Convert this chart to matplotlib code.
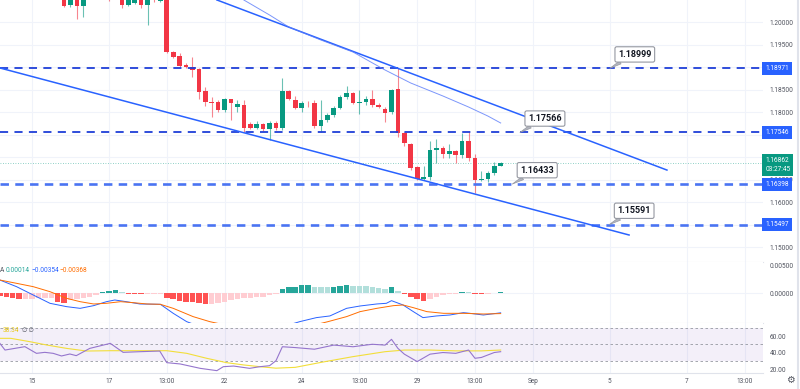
import numpy as np
import matplotlib
matplotlib.use('Agg')
import matplotlib.pyplot as plt
from matplotlib.lines import Line2D
from matplotlib.transforms import blended_transform_factory

plt.rcParams['font.family'] = ['Roboto', 'DejaVu Sans']

# 4h candles, x = bar index counted from Mon 15 00:00 (weekends skipped)
candle_idx = list(range(5, 74))
opens = [1.2075, 1.2038, 1.2070, 1.2036, 1.2070, 1.2085, 1.2090, 1.2080, 1.2060, 1.2075,
         1.2038, 1.2043, 1.2068, 1.2038, 1.2062, 1.2047, 1.2055, 1.1934, 1.1924, 1.1904,
         1.1901, 1.1895, 1.1847, 1.1823, 1.1823, 1.1804, 1.1828, 1.1812, 1.1816, 1.1773,
         1.1765, 1.1773, 1.1762, 1.1775, 1.1764, 1.1847, 1.1827, 1.1810, 1.1821, 1.1821,
         1.1769, 1.1782, 1.1793, 1.1810, 1.1833, 1.1842, 1.1820, 1.1822, 1.1829, 1.1816,
         1.1807, 1.1799, 1.1851, 1.1753, 1.1729, 1.1677, 1.1651, 1.1655, 1.1716, 1.1721,
         1.1706, 1.1713, 1.1704, 1.1736, 1.1697, 1.1649, 1.1651, 1.1664, 1.1681]
highs = [1.2085, 1.2070, 1.2078, 1.2074, 1.2092, 1.2098, 1.2095, 1.2085, 1.2078, 1.2082,
         1.2065, 1.2075, 1.2072, 1.2066, 1.2068, 1.2060, 1.2065, 1.1936, 1.1932, 1.1910,
         1.1923, 1.1897, 1.1856, 1.1834, 1.1826, 1.1832, 1.1830, 1.1826, 1.1827, 1.1777,
         1.1781, 1.1776, 1.1781, 1.1781, 1.1875, 1.1850, 1.1835, 1.1824, 1.1825, 1.1827,
         1.1826, 1.1797, 1.1813, 1.1838, 1.1857, 1.1845, 1.1848, 1.1835, 1.1850, 1.1820,
         1.1812, 1.1852, 1.1897, 1.1755, 1.1732, 1.1681, 1.1680, 1.1736, 1.1741, 1.1725,
         1.1728, 1.1716, 1.1753, 1.1758, 1.1706, 1.1670, 1.1670, 1.1690, 1.1690]
lows = [1.2033, 1.2034, 1.2007, 1.2012, 1.2060, 1.2070, 1.2065, 1.2047, 1.2052, 1.2031,
        1.2035, 1.2040, 1.2031, 1.1993, 1.2044, 1.2044, 1.1932, 1.1921, 1.1900, 1.1898,
        1.1878, 1.1830, 1.1813, 1.1790, 1.1800, 1.1800, 1.1782, 1.1800, 1.1756, 1.1762,
        1.1762, 1.1758, 1.1738, 1.1760, 1.1760, 1.1826, 1.1806, 1.1800, 1.1812, 1.1764,
        1.1756, 1.1778, 1.1789, 1.1806, 1.1829, 1.1817, 1.1795, 1.1815, 1.1812, 1.1808,
        1.1777, 1.1795, 1.1745, 1.1725, 1.1672, 1.1648, 1.1648, 1.1650, 1.1686, 1.1697,
        1.1697, 1.1686, 1.1698, 1.1692, 1.1619, 1.1646, 1.1645, 1.1660, 1.1680]
closes = [1.2036, 1.2065, 1.2036, 1.2070, 1.2085, 1.2090, 1.2080, 1.2060, 1.2070, 1.2038,
          1.2060, 1.2070, 1.2038, 1.2062, 1.2055, 1.2055, 1.1934, 1.1923, 1.1903, 1.1901,
          1.1893, 1.1845, 1.1823, 1.1821, 1.1804, 1.1829, 1.1821, 1.1817, 1.1764, 1.1765,
          1.1773, 1.1762, 1.1775, 1.1764, 1.1847, 1.1828, 1.1810, 1.1820, 1.1819, 1.1769,
          1.1782, 1.1793, 1.1810, 1.1833, 1.1842, 1.1820, 1.1822, 1.1829, 1.1816, 1.1811,
          1.1798, 1.1850, 1.1753, 1.1732, 1.1676, 1.1651, 1.1656, 1.1716, 1.1721, 1.1706,
          1.1713, 1.1704, 1.1736, 1.1697, 1.1649, 1.1652, 1.1664, 1.1681, 1.16862]

last_price = 1.16862
countdown = '03:27:45'

# drawn levels and trendlines
levels = [1.18971, 1.17546, 1.16398, 1.15497]
upper_x = [28.8, 98.9]
upper_y = [1.2049, 1.1671]
lower_x = [-4.98, 93.0]
lower_y = [1.18978, 1.15267]
ma_x = [33, 37, 40, 45, 50, 55, 59, 64, 68, 71, 73]
ma_y = [1.20489, 1.20156, 1.19889, 1.19600, 1.19333, 1.18933, 1.18644, 1.18356, 1.18111, 1.17911, 1.17756]

callout_text = ['1.18999', '1.17566', '1.16433', '1.15591']
callout_x = [90.0, 76.0, 74.8, 89.9]
callout_y = [1.18971, 1.17546, 1.16398, 1.15497]

# MACD pane
hist_idx = list(range(-5, 74))
hist = [-0.0006, -0.00065, -0.00083, -0.0011, -0.00105, -0.0010, -0.00095, -0.0009, -0.00085, -0.00155,
        -0.00175, -0.0012, -0.0011, -0.00095, -0.00065, -0.00036, 0.00012, 0.00036, 0.00048, 0.00018,
        -0.00012, -0.00018, -0.0002, -0.00015, -0.00012, -0.0001, -0.00083, -0.00113, -0.00143, -0.00155,
        -0.0016, -0.00184, -0.00196, -0.0019, -0.00184, -0.00155, -0.00125, -0.00107, -0.00095, -0.00083,
        -0.00077, -0.00065, -0.00036, -0.00018, 0.00071, 0.00101, 0.00113, 0.00143, 0.00145, 0.00101,
        0.00100, 0.00099, 0.00113, 0.00125, 0.00143, 0.00125, 0.00124, 0.00123, 0.00101, 0.00083,
        0.00071, 0.00101, 0.00036, -0.00012, -0.00065, -0.00113, -0.00137, -0.00107, -0.00065, -0.00036,
        -0.00024, -0.00018, 0.00024, 0.00018, -0.00018, -0.00024, -0.00018, -0.00006, 0.00014]
macd_x = [-5, -2.4, 0.2, 2.8, 5.4, 7.5, 9.6, 11.6, 12.9, 14.7, 16.8, 20, 22, 24.1, 28, 33, 38, 41.7,
          44.3, 46.4, 49, 51.1, 53.7, 55.2, 56, 57.8, 59.4, 60.9, 63, 65.1, 67.2, 68.2, 70.3, 73]
macd_y = [0.00232, 0.00113, -0.00036, -0.00184, -0.00244, -0.00274, -0.00226, -0.00155, -0.00125,
          -0.00155, -0.00196, -0.00202, -0.00363, -0.00512, -0.0068, -0.0072, -0.0064, -0.00512,
          -0.0044, -0.0041, -0.00274, -0.00232, -0.00196, -0.00184, -0.00137, -0.00214, -0.00333,
          -0.0044, -0.0041, -0.00393, -0.00351, -0.00363, -0.00393, -0.00354]
signal_x = [-5, -2.4, 0.2, 2.8, 5.4, 7.5, 9.6, 11.6, 13.8, 15.8, 17.9, 20, 22, 25.1, 27.7, 32, 38,
            43, 46.1, 49, 51.1, 53.7, 56.3, 57.8, 59.4, 61.5, 64.1, 67.2, 70.3, 73]
signal_y = [0.00232, 0.00173, 0.00113, 0.00024, -0.00095, -0.00155, -0.00196, -0.00184, -0.00155,
            -0.00173, -0.00196, -0.00202, -0.00274, -0.00422, -0.00512, -0.0062, -0.0066, -0.0060,
            -0.00512, -0.00422, -0.00333, -0.00274, -0.00226, -0.00214, -0.00262, -0.00333,
            -0.00363, -0.00363, -0.00375, -0.00368]
macd_legend = ['0.00014', '\u22120.00354', '\u22120.00368']

# RSI pane
rsi_x = [-5, -4.2, -1.1, 0.7, 2, 3.3, 4.6, 5.9, 6.9, 9, 12.2, 14.2, 16.8, 19.9, 21, 23.1, 26.2,
         28.8, 29.8, 31.4, 33.9, 35.5, 37, 38, 39, 41, 44, 47, 50, 53, 55, 56, 57, 58, 60, 62,
         64, 66, 68, 69, 70, 72, 73]
rsi_y = [51.1, 43, 47.1, 39, 40.2, 39, 35.8, 38.2, 36.2, 45, 51.1, 40.2, 41, 41.8, 27.7, 26.1, 20.8,
         18, 22.8, 23.6, 20.8, 22.8, 24, 30, 47, 46, 44, 49, 47, 50, 49, 56, 45, 38, 29, 38,
         40, 39, 43, 33, 34, 40, 41]
rsi_ma_x = [-5, -3.3, -0.3, 2.3, 5.4, 8.5, 12.2, 16.8, 21, 24.1, 27.2, 30.3, 33, 35.5, 38, 41,
            45, 50, 55, 58, 62, 66, 70, 73]
rsi_ma_y = [57.2, 57.2, 53.1, 49.1, 45, 41.8, 42.2, 42.2, 42.2, 39, 33, 27.7, 24.9, 22.8, 21, 22,
            28, 35, 41, 43, 43, 42, 42, 43]
rsi_legend = '38.34'

tick_pos = [0, 12, 21, 30, 42, 51, 60, 69, 78, 90, 102, 111]
tick_lab = ['15', '17', '13:00', '22', '24', '13:00', '29', '13:00', 'Sep', '5', '7', '13:00']

GREEN = '#089981'
RED = '#F23645'
BLUE = '#2962FF'
GRID = '#F0F3FA'
TXT = '#50535E'
FS = 4.7

W, H = 800, 389
fig = plt.figure(figsize=(8, 3.89), dpi=100)


def pane(top, bottom):
    a = fig.add_axes([0, 1 - bottom / H, 763 / W, (bottom - top) / H])
    a.set_xlim(-4.98, 113.86)
    for s in a.spines.values():
        s.set_visible(False)
    a.spines['bottom'].set_visible(True)
    a.spines['bottom'].set_color('#E0E3EB')
    a.yaxis.tick_right()
    a.tick_params(axis='y', length=0, pad=4.6, labelsize=FS, labelcolor=TXT)
    a.tick_params(axis='x', length=0)
    a.set_xticks(tick_pos)
    a.set_xticklabels([])
    for t in tick_pos:
        a.axvline(t, color=GRID, lw=0.8, zorder=0)
    return a


ax = pane(0, 262)
axm = pane(262, 323)
axr = pane(323, 373)

# ---- price pane ----
ax.set_ylim(1.14667, 1.20489)
price_ticks = np.arange(1.150, 1.2001, 0.005)
ax.set_yticks(price_ticks)
# labels sitting under a level box are hidden on the real chart
ax.set_yticklabels(['' if min(abs(p - l) for l in levels) < 0.0006 else '%.5f' % p for p in price_ticks])
for p in price_ticks:
    ax.axhline(p, color=GRID, lw=0.8, zorder=0)

for i, o, h, l, c in zip(candle_idx, opens, highs, lows, closes):
    col = GREEN if c >= o else RED
    ax.vlines(i, l, h, color=col, lw=0.8, alpha=0.6, zorder=2)
    body = max(abs(c - o), 0.00006)
    ax.bar(i, body, bottom=min(o, c), width=0.72, color=col, zorder=3)

ax.axhline(last_price, color=GREEN, lw=0.6, ls=(0, (1, 2)), alpha=0.6, zorder=1)

for k, lvl in enumerate(levels):
    if k < 2:
        ax.axhline(lvl, color='#1F3FD8', lw=1.3, ls=(0, (4.5, 3.5)), zorder=4)
    else:
        ax.axhline(lvl, color='#4A74F2', lw=1.9, ls=(0, (3.2, 2.4)), zorder=4)

ax.plot(upper_x, upper_y, color=BLUE, lw=1.1, zorder=5)
ax.plot(lower_x, lower_y, color=BLUE, lw=1.1, zorder=5)
ax.plot(ma_x, ma_y, color='#5B7CFA', lw=0.7, alpha=0.8, zorder=5)

for txt, cx, cy in zip(callout_text, callout_x, callout_y):
    ax.annotate(txt, xy=(cx, cy), xytext=(18, 10), textcoords='offset points',
                fontsize=6.5, fontweight='bold', color='#131722', ha='center', va='center',
                bbox=dict(boxstyle='round,pad=0.35,rounding_size=0.2', fc='white', ec='#9598A1', lw=0.8),
                arrowprops=dict(arrowstyle='wedge,tail_width=0.35', fc='#B2B5BE', ec='#9598A1', lw=0.5,
                                shrinkA=0, shrinkB=0),
                zorder=8)

tr = blended_transform_factory(ax.transAxes, ax.transData)
for lvl in levels:
    ax.text(1.003, lvl, '%.5f' % lvl, transform=tr, fontsize=FS, color='white', ha='left', va='center',
            bbox=dict(boxstyle='square,pad=0.45', fc=BLUE, ec='none'), zorder=10, clip_on=False)
ax.text(1.003, last_price - 0.0003, '%.5f\n%s' % (last_price, countdown), transform=tr, fontsize=FS,
        color='white', ha='left', va='center', linespacing=1.4,
        bbox=dict(boxstyle='square,pad=0.45', fc=GREEN, ec='none'), zorder=10, clip_on=False)

# ---- MACD pane ----
axm.set_ylim(-0.00536, 0.00554)
axm.set_yticks([0.0, 0.005])
axm.set_yticklabels(['0.00000', '0.00500'])
axm.axhline(0, color=GRID, lw=0.8, zorder=0)
prev = 0.0
for i, v in zip(hist_idx, hist):
    if v >= 0:
        col = '#26A69A' if v >= prev else '#B2DFDB'
    else:
        col = '#FF5252' if v < prev else '#FFCDD2'
    axm.bar(i, v, width=0.85, color=col, zorder=2)
    prev = v
axm.plot(macd_x, macd_y, color=BLUE, lw=0.7, zorder=3)
axm.plot(signal_x, signal_y, color='#FF6D00', lw=0.7, zorder=3)

ly = 1 - 271 / H
fig.text(0 / W, ly, 'A', fontsize=FS, color=TXT, va='center')
for txt, xp, col in zip(macd_legend, [6, 31, 59], ['#26A69A', BLUE, '#FF6D00']):
    fig.text(xp / W, ly, txt, fontsize=FS, color=col, va='center')

# ---- RSI pane ----
axr.set_ylim(15.15, 75.8)
axr.set_yticks([20, 40, 60])
axr.set_yticklabels(['20.00', '40.00', '60.00'])
axr.axhspan(30, 70, color='#7E57C2', alpha=0.09, lw=0, zorder=0)
for lvl in [70, 50, 30]:
    axr.axhline(lvl, color='#9598A1', lw=0.6, ls=(0, (3, 3)), zorder=1)
axr.plot(rsi_ma_x, rsi_ma_y, color='#F2DE3A', lw=0.8, zorder=3)
axr.plot(rsi_x, rsi_y, color='#9575CD', lw=0.8, zorder=4)
axr.set_xticklabels(tick_lab)
axr.tick_params(axis='x', labelsize=FS, labelcolor=TXT, pad=3.5)

fig.text(3 / W, 1 - 330 / H, rsi_legend, fontsize=FS, color='#E8C81A', va='center')
fig.text(22 / W, 1 - 330 / H, '\u2205\u2009\u2205', fontsize=4.3, color=TXT, va='center')

fig.text(790 / W, 1 - 380 / H, '\u2699', fontsize=7, color=TXT, ha='center', va='center')
fig.add_artist(Line2D([797.5 / W, 797.5 / W], [0, 1], color='#E0E3EB', lw=1.5))

fig.savefig('out.png', dpi=100)
